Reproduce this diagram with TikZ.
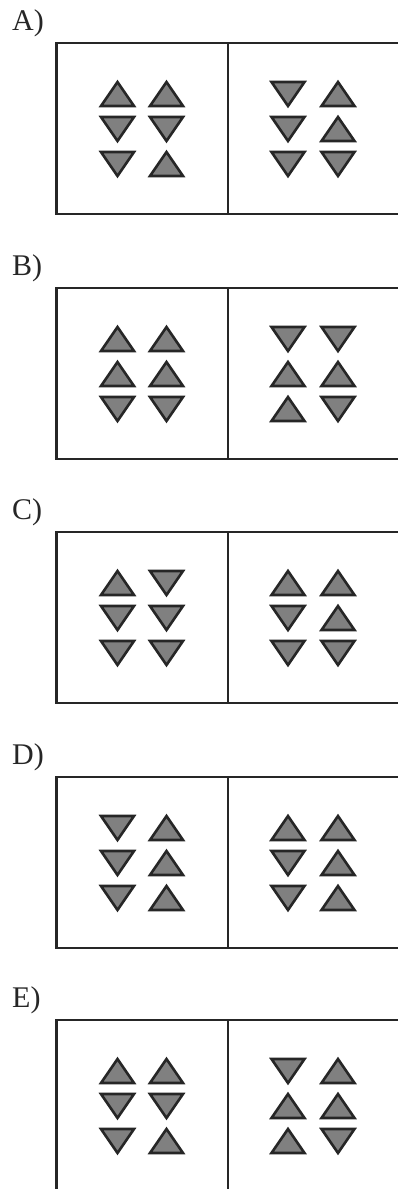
\documentclass[tikz,border=0pt]{standalone}
\usepackage{fontspec}
\setmainfont{Liberation Serif}
\definecolor{trifill}{HTML}{808080}
\definecolor{edgecol}{HTML}{262626}
\tikzset{
  panel/.style={draw=edgecol, line width=2.8pt},
  tri/.style={fill=trifill, draw=edgecol, line width=2.6pt, line join=miter},
  lbl/.style={anchor=base west, inner sep=0pt, font=\fontsize{30pt}{32pt}\selectfont, text=black!85},
}
\newcommand\mycol[3]{%
  \foreach \s [count=\i] in {#3} {%
    \draw[tri] ({#1-16.5},{#2+16+35*\i+12*(\s)}) -- ({#1+16.5},{#2+16+35*\i+12*(\s)}) -- ({#1},{#2+16+35*\i-12*(\s)}) -- cycle;
  }%
}
\newcommand\mypanel[7]{%
  \node[lbl] (#2) at (12,{#1-13}) {#3};
  \draw[panel] (405,#1) -- (56.5,#1) -- (56.5,{#1+171}) -- (405,{#1+171});
  \draw[panel] (228,#1) -- (228,{#1+171});
  \mycol{117.5}{#1}{#4}
  \mycol{166.5}{#1}{#5}
  \mycol{288}{#1}{#6}
  \mycol{338}{#1}{#7}
}
\begin{document}
\begin{tikzpicture}[x=1pt,y=-1pt]
  \useasboundingbox (0,0) rectangle (398,1189);
  \clip (0,0) rectangle (398,1189);
  \mypanel{43}{la}{A)}{1,-1,-1}{1,-1,1}{-1,-1,-1}{1,1,-1}
  \mypanel{288}{lb}{B)}{1,1,-1}{1,1,-1}{-1,1,1}{-1,1,-1}
  \mypanel{532}{lc}{C)}{1,-1,-1}{-1,-1,-1}{1,-1,-1}{1,1,-1}
  \mypanel{777}{ld}{D)}{-1,-1,-1}{1,1,1}{1,-1,-1}{1,1,1}
  \mypanel{1020}{le}{E)}{1,-1,-1}{1,-1,1}{-1,1,1}{1,1,-1}
\end{tikzpicture}
\end{document}
